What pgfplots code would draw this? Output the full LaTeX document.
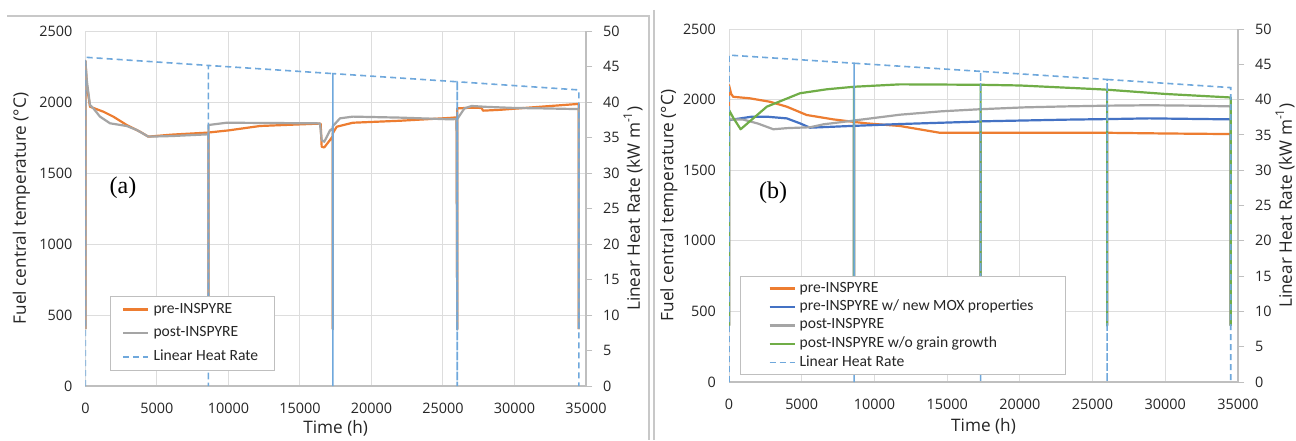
\documentclass[border=0pt]{standalone}
\usepackage{fontspec}
\setmainfont{Open Sans}
\newfontfamily\legfont{Carlito}
\newfontfamily\panelfont{Liberation Serif}
\usepackage{pgfplots}
\pgfplotsset{compat=1.18}

\definecolor{cOrange}{HTML}{ED7D31}
\definecolor{cGray}{HTML}{A5A5A5}
\definecolor{cBlue}{HTML}{4472C4}
\definecolor{cGreen}{HTML}{70AD47}
\definecolor{cLHR}{HTML}{6FA8DC}
\definecolor{gridgray}{HTML}{DDDDDD}
\definecolor{axisgray}{HTML}{BFBFBF}
\definecolor{framegray}{HTML}{C8C8C8}

\newcommand\tickfont{\fontsize{7.2}{8.5}\selectfont}
\newcommand\labfont{\fontsize{8.6}{10}\selectfont}

\pgfplotsset{
  tempaxis/.style={
    scale only axis, anchor=south west,
    xmin=0, xmax=35000, ymin=0, ymax=2500,
    xtick={0,5000,...,35000}, ytick={0,500,...,2500},
    scaled ticks=false,
    /pgf/number format/1000 sep={},
    /pgf/number format/assume math mode=true,
    tick label style={font=\tickfont, text=black!85},
    label style={font=\labfont, text=black!85},
    axis x line*=bottom, axis y line*=left,
    x axis line style={draw=axisgray, line width=0.6pt, -},
    y axis line style={draw=none},
    major tick length=0pt,
    grid=major, grid style={draw=gridgray, line width=0.5pt},
    xlabel={Time (h)},
    ylabel={Fuel central temperature (°C)},
    xticklabel style={yshift=-5pt},
    yticklabel style={xshift=-3pt},
  },
  lhraxis/.style={
    scale only axis, anchor=south west,
    xmin=0, xmax=35000, ymin=0, ymax=50,
    axis x line=none, axis y line*=right,
    y axis line style={draw=axisgray, line width=0.6pt, -},
    ytick={0,5,...,50},
    tick align=outside, major tick length=3pt,
    ytick style={draw=axisgray, line width=0.5pt},
    /pgf/number format/assume math mode=true,
    tick label style={font=\tickfont, text=black!85},
    label style={font=\labfont, text=black!85},
    ylabel={Linear Heat Rate (kW m\textsuperscript{-1})},
    yticklabel style={xshift=2pt},
    legend cell align=left,
    legend image code/.code={\draw[#1] (0pt,0pt) -- (12.5pt,0pt);},
  },
  tline/.style={line width=1.1pt, line join=round},
  lhrline/.style={color=cLHR, line width=0.8pt, dash pattern=on 3pt off 2pt},
}

\begin{document}
\begin{tikzpicture}
\useasboundingbox (0,0) rectangle (648pt,220pt);
\fill[white] (0,0) rectangle (648pt,220pt);
\draw[framegray, line width=0.6pt] (3.5pt,212pt) -- (324.5pt,212pt) -- (324.5pt,0pt);
\draw[framegray, line width=0.6pt] (327pt,215pt) -- (327pt,0pt);

% ---------------- panel (a) ----------------
\begin{axis}[tempaxis, at={(42.7pt,27pt)}, width=250.3pt, height=177.5pt,
  xlabel style={at={(rel axis cs:0.5,0)}, anchor=center, yshift=-21pt},
  ylabel style={at={(rel axis cs:-0.1278,0.5)}, anchor=center}]
\addplot[tline, cOrange] coordinates {
(0,400) (0,2290) (100,2120) (320,1967) (1250,1932) (1950,1897) (2890,1838)
(3820,1791) (4400,1756) (6000,1770) (8480,1784) (8600,1785) (8600,400) (8600,1785)
(10000,1800) (12200,1831) (14400,1840) (16400,1848) (16450,1845) (16520,1685)
(16700,1680) (17100,1732) (17300,1760) (17300,400) (17300,1780) (17570,1826)
(18700,1854) (22000,1868) (25500,1888) (25950,1892) (26000,400) (26000,1955)
(27000,1960) (27700,1958) (27800,1939) (29000,1945) (32000,1968) (34400,1986)
(34500,1986) (34500,400)
};
\addplot[tline, cGray] coordinates {
(0,400) (0,2290) (100,2150) (320,1979) (600,1950) (1020,1897) (1720,1850)
(2890,1831) (3590,1803) (4400,1756) (6000,1760) (8480,1772) (8600,1772) (8600,400)
(8600,1838) (9880,1854) (13000,1852) (16170,1850) (16400,1848) (16520,1732)
(16700,1720) (17100,1800) (17300,1815) (17300,400) (17300,1830) (17800,1885)
(18700,1897) (22000,1890) (25500,1878) (25950,1880) (26000,400) (26000,1880)
(26500,1955) (27000,1972) (28000,1966) (30000,1958) (32000,1955) (34500,1950)
(34500,400)
};
\end{axis}
\begin{axis}[lhraxis, at={(42.7pt,27pt)}, width=250.3pt, height=177.5pt,
  ylabel style={at={(rel axis cs:1.0939,0.5)}, anchor=center},
  legend style={at={(rel axis cs:0.049,0.042)}, anchor=south west,
    draw=axisgray, fill=white, font=\legfont\fontsize{7.8}{9}\selectfont,
    inner xsep=6pt, inner ysep=1.5pt, row sep=1.2pt, text=black!85}]
\addlegendimage{tline, cOrange}
\addlegendentry{pre-INSPYRE}
\addlegendimage{tline, cGray}
\addlegendentry{post-INSPYRE}
\addplot[lhrline] coordinates {
(0,0) (0,46.3) (8600,45.15) (8600,0) (8600,45.15) (17300,44.0) (17300,0)
(17300,44.0) (26000,42.85) (26000,0) (26000,42.85) (34500,41.7) (34500,0)
};
\addlegendentry{Linear Heat Rate\hspace{2pt}}
\end{axis}
\node[font=\panelfont\fontsize{12}{14}\selectfont] at (61.5pt,126pt) {(a)};

% ---------------- panel (b) ----------------
\begin{axis}[tempaxis, at={(364.5pt,29pt)}, width=254.5pt, height=176.5pt,
  xlabel style={at={(rel axis cs:0.5,0)}, anchor=center, yshift=-22pt},
  ylabel style={at={(rel axis cs:-0.1179,0.5)}, anchor=center}]
\addplot[tline, cOrange] coordinates {
(0,400) (0,2103) (150,2040) (290,2020) (1440,2009) (2800,1985) (3970,1950)
(5340,1891) (7170,1860) (8600,1842) (8600,400) (8600,1842) (9440,1832)
(11760,1813) (14500,1765) (17300,1765) (17300,400) (17300,1765) (20000,1765)
(26000,1765) (26000,400) (26000,1765) (30000,1760) (34500,1756) (34500,400)
};
\addplot[tline, cBlue] coordinates {
(0,400) (0,1855) (1500,1878) (2600,1879) (3970,1867) (4880,1832) (5570,1801)
(8320,1813) (8600,1814) (8600,400) (8600,1814) (11760,1827) (17030,1844)
(17300,1846) (17300,400) (17300,1846) (23200,1858) (26000,1862) (26000,400)
(26000,1862) (28900,1867) (34500,1860) (34500,400)
};
\addplot[tline, cGray] coordinates {
(0,400) (0,1860) (1000,1858) (2000,1830) (3050,1790) (4000,1798) (5570,1804)
(6500,1825) (8550,1851) (8600,1852) (8600,400) (8600,1852) (11750,1893)
(14600,1917) (17300,1932) (17300,400) (17300,1932) (20300,1945) (23200,1952)
(26000,1957) (26000,400) (26000,1957) (28900,1960) (31800,1957) (34500,1952)
(34500,400)
};
\addplot[tline, cGreen] coordinates {
(0,400) (0,1926) (300,1870) (800,1790) (2600,1950) (4880,2045) (6720,2073)
(8600,2091) (8600,400) (8600,2091) (11760,2108) (17300,2105) (17300,400)
(17300,2105) (20000,2100) (25500,2073) (26000,2070) (26000,400) (26000,2070)
(30000,2040) (34500,2015) (34500,400)
};
\end{axis}
\begin{axis}[lhraxis, at={(364.5pt,29pt)}, width=254.5pt, height=176.5pt,
  ylabel style={at={(rel axis cs:1.0923,0.5)}, anchor=center},
  legend style={at={(rel axis cs:0.0216,0.02)}, anchor=south west,
    draw=axisgray, fill=white, font=\legfont\fontsize{7.8}{8.6}\selectfont,
    inner xsep=14pt, inner ysep=0.5pt, row sep=-1.5pt, text=black!85}]
\addlegendimage{tline, cOrange}
\addlegendentry{pre-INSPYRE}
\addlegendimage{tline, cBlue}
\addlegendentry{pre-INSPYRE w/ new MOX properties\hspace{22pt}}
\addlegendimage{tline, cGray}
\addlegendentry{post-INSPYRE}
\addlegendimage{tline, cGreen}
\addlegendentry{post-INSPYRE w/o grain growth}
\addplot[lhrline] coordinates {
(0,0) (0,46.3) (8600,45.15) (8600,0) (8600,45.15) (17300,44.0) (17300,0)
(17300,44.0) (26000,42.85) (26000,0) (26000,42.85) (34500,41.7) (34500,0)
};
\addlegendentry{Linear Heat Rate}
\end{axis}
\node[font=\panelfont\fontsize{12}{14}\selectfont] at (386.5pt,123.5pt) {(b)};
\end{tikzpicture}
\end{document}
